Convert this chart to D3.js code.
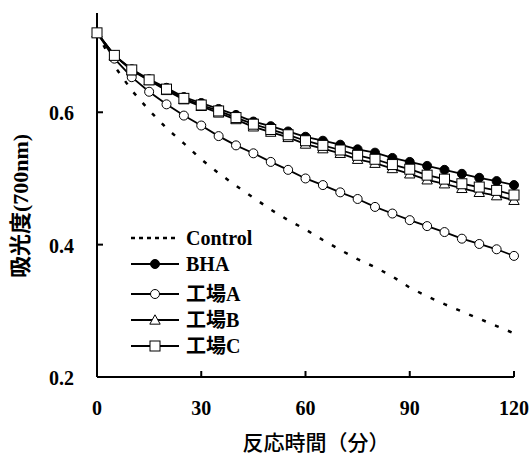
<!DOCTYPE html>
<html>
<head>
<meta charset="utf-8">
<script src="https://cdn.jsdelivr.net/npm/d3@7"></script>
<style>
  html, body { margin: 0; padding: 0; background: #fff; }
  svg { display: block; }
  text { font-family: "Liberation Serif", "Noto Sans CJK JP", serif; fill: #000; }
</style>
</head>
<body>
<script>
// Reaction time (minutes), sampled every 5 min
const times = [0, 5, 10, 15, 20, 25, 30, 35, 40, 45, 50, 55, 60,
               65, 70, 75, 80, 85, 90, 95, 100, 105, 110, 115, 120];

// Absorbance at 700 nm for each sample
const control = [0.720, 0.670, 0.633, 0.603, 0.576, 0.553, 0.529, 0.508, 0.489, 0.471, 0.453, 0.437, 0.423,
                 0.407, 0.392, 0.378, 0.366, 0.352, 0.335, 0.322, 0.310, 0.299, 0.288, 0.277, 0.266];
const bha     = [0.720, 0.686, 0.665, 0.650, 0.637, 0.623, 0.614, 0.605, 0.596, 0.586, 0.579, 0.571, 0.563,
                 0.557, 0.551, 0.544, 0.539, 0.531, 0.525, 0.519, 0.513, 0.507, 0.501, 0.496, 0.490];
const plantA  = [0.720, 0.681, 0.653, 0.631, 0.612, 0.595, 0.580, 0.564, 0.550, 0.538, 0.525, 0.513, 0.500,
                 0.490, 0.479, 0.469, 0.457, 0.447, 0.437, 0.428, 0.419, 0.409, 0.401, 0.393, 0.383];
const plantB  = [0.720, 0.686, 0.663, 0.648, 0.633, 0.619, 0.609, 0.599, 0.589, 0.578, 0.570, 0.562, 0.552,
                 0.545, 0.538, 0.529, 0.523, 0.515, 0.507, 0.498, 0.492, 0.485, 0.479, 0.474, 0.467];
const plantC  = [0.720, 0.686, 0.664, 0.649, 0.635, 0.621, 0.611, 0.602, 0.592, 0.582, 0.574, 0.566, 0.557,
                 0.550, 0.543, 0.535, 0.529, 0.521, 0.514, 0.505, 0.499, 0.492, 0.487, 0.482, 0.475];

const seriesNames = ["Control", "BHA", "工場A", "工場B", "工場C"];
const seriesMarkers = ["none", "filledCircle", "circle", "triangle", "square"];
const seriesValues = [control, bha, plantA, plantB, plantC];

const xTicks = [0, 30, 60, 90, 120];
const yTicks = [0.2, 0.4, 0.6];
const xTitle = "反応時間（分）";
const yTitle = "吸光度(700nm)";

const W = 531, H = 457;
const svg = d3.select("body").append("svg").attr("width", W).attr("height", H);

const x = d3.scaleLinear().domain([0, 120]).range([97, 514]);
const y = d3.scaleLinear().domain([0.2, 0.75]).range([377, 13]);

// Axis frame with inward ticks
const axisG = svg.append("g");
axisG.append("line").attr("x1", x(0)).attr("x2", x(120)).attr("y1", y(0.2)).attr("y2", y(0.2))
  .attr("stroke", "#000").attr("stroke-width", 2);
axisG.append("line").attr("x1", x(0)).attr("x2", x(0)).attr("y1", y(0.2)).attr("y2", y(0.75))
  .attr("stroke", "#000").attr("stroke-width", 2);

axisG.selectAll(".xt").data(xTicks).join("line")
  .attr("x1", d => x(d)).attr("x2", d => x(d))
  .attr("y1", y(0.2)).attr("y2", y(0.2) - 6)
  .attr("stroke", "#000").attr("stroke-width", 2);
axisG.selectAll(".yt").data(yTicks).join("line")
  .attr("x1", x(0)).attr("x2", x(0) + 6)
  .attr("y1", d => y(d)).attr("y2", d => y(d))
  .attr("stroke", "#000").attr("stroke-width", 2);

axisG.selectAll(".xl").data(xTicks).join("text")
  .attr("x", d => x(d)).attr("y", 415)
  .attr("text-anchor", "middle")
  .attr("font-size", 20).attr("font-weight", "bold")
  .text(d => d);
axisG.selectAll(".yl").data(yTicks).join("text")
  .attr("x", 74).attr("y", d => y(d) + 8)
  .attr("text-anchor", "end")
  .attr("font-size", 20).attr("font-weight", "bold")
  .text(d => d.toFixed(1));

svg.append("text")
  .attr("x", 316).attr("y", 450)
  .attr("text-anchor", "middle")
  .attr("font-size", 21)
  .attr("font-family", "'Noto Sans CJK JP', sans-serif")
  .attr("font-weight", 500)
  .text(xTitle);

svg.append("text")
  .attr("transform", "translate(28,206) rotate(-90)")
  .attr("text-anchor", "middle")
  .attr("font-size", 22)
  .attr("font-weight", "bold")
  .text(yTitle);

// Series lines and markers
const line = d3.line().x((d, i) => x(times[i])).y(d => y(d));
const R = 5;

function drawMarker(g, type, cx, cy) {
  if (type === "filledCircle") {
    g.append("circle").attr("cx", cx).attr("cy", cy).attr("r", R - 0.5)
      .attr("fill", "#000").attr("stroke", "#000").attr("stroke-width", 1);
  } else if (type === "circle") {
    g.append("circle").attr("cx", cx).attr("cy", cy).attr("r", R - 0.5)
      .attr("fill", "#fff").attr("stroke", "#000").attr("stroke-width", 1);
  } else if (type === "triangle") {
    const s = 5.2;
    const pts = [[cx, cy - s], [cx + s, cy + s * 0.8], [cx - s, cy + s * 0.8]];
    g.append("polygon").attr("points", pts.map(p => p.join(",")).join(" "))
      .attr("fill", "#fff").attr("stroke", "#000").attr("stroke-width", 1);
  } else if (type === "square") {
    g.append("rect").attr("x", cx - R).attr("y", cy - R).attr("width", 2 * R).attr("height", 2 * R)
      .attr("fill", "#fff").attr("stroke", "#000").attr("stroke-width", 1);
  }
}

seriesValues.forEach((vals, k) => {
  const g = svg.append("g");
  const isControl = seriesMarkers[k] === "none";
  g.append("path").datum(vals)
    .attr("d", line)
    .attr("fill", "none")
    .attr("stroke", "#000")
    .attr("stroke-width", isControl ? 2.5 : 1.8)
    .attr("stroke-dasharray", isControl ? "4,10" : null);
  if (!isControl) {
    vals.forEach((v, i) => drawMarker(g, seriesMarkers[k], x(times[i]), y(v)));
  }
});

// Legend
const legendRows = [238, 264, 294, 320, 346];
const leg = svg.append("g");
seriesNames.forEach((name, k) => {
  const ly = legendRows[k];
  const isControl = seriesMarkers[k] === "none";
  leg.append("line")
    .attr("x1", 131).attr("x2", 179).attr("y1", ly).attr("y2", ly)
    .attr("stroke", "#000").attr("stroke-width", isControl ? 2.5 : 1.8)
    .attr("stroke-dasharray", isControl ? "4,4" : null);
  if (!isControl) drawMarker(leg, seriesMarkers[k], 155, ly);
  leg.append("text")
    .attr("x", 186).attr("y", ly + 7)
    .attr("font-size", 20).attr("font-weight", "bold")
    .text(name);
});
</script>
</body>
</html>
